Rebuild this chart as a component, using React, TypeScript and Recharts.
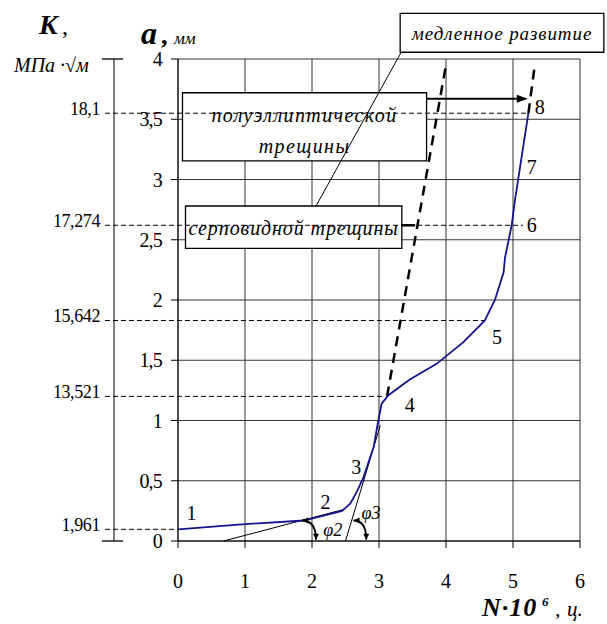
import React from 'react';
import {
  ComposedChart, Line, XAxis, YAxis, CartesianGrid, ReferenceLine,
  ReferenceArea, Scatter, Customized,
} from 'recharts';

// ---- data ----
const cycles = [0, 1.0, 1.88, 2.45, 2.57, 2.67, 2.77, 2.92, 2.99, 3.04, 3.14, 3.46, 3.86, 4.26, 4.58, 4.73, 4.86, 4.88, 4.94, 4.98, 5.03, 5.23];
const depth = [0.097, 0.14, 0.17, 0.25, 0.31, 0.41, 0.53, 0.78, 1.0, 1.14, 1.21, 1.34, 1.47, 1.65, 1.83, 2.0, 2.23, 2.35, 2.51, 2.62, 2.83, 3.55];

const xTicks = [0, 1, 2, 3, 4, 5, 6];
const aTicks = [0, 0.5, 1, 1.5, 2, 2.5, 3, 3.5, 4];

const kLevels = [0.097, 1.2, 1.83, 2.62, 3.55];
const kLabels = ['1,961', '13,521', '15,642', '17,274', '18,1'];
const kLineEnds = [0, 3.09, 4.58, 5.15, 5.22];
const kTicks = [0, ...kLevels, 4];

const stageN = [0.2, 2.2, 2.66, 3.46, 4.76, 5.28, 5.28, 5.4, 2.31, 2.88];
const stageA = [0.23, 0.32, 0.61, 1.13, 1.69, 2.62, 3.1, 3.6, 0.09, 0.23];
const stageText = ['1', '2', '3', '4', '5', '6', '7', '8', 'φ2', 'φ3'];

const curve = cycles.map((n, i) => ({ n, a: depth[i] }));
const stageLabels = stageN.map((n, i) => ({ n, a: stageA[i], t: stageText[i] }));

const SERIF = '"Liberation Serif", serif';
const K_AXIS_LEFT = -1.09;

const ArrowShape = (p: any) => {
  const { x1, y1, x2, y2 } = p;
  const ang = Math.atan2(y2 - y1, x2 - x1);
  const L = 11, W = 4;
  const bx = x2 - L * Math.cos(ang), by = y2 - L * Math.sin(ang);
  const px = -Math.sin(ang) * W, py = Math.cos(ang) * W;
  return (
    <g>
      <line x1={x1} y1={y1} x2={bx} y2={by} stroke="#000" strokeWidth={2.2} />
      <polygon points={`${x2},${y2} ${bx + px},${by + py} ${bx - px},${by - py}`} fill="#000" />
    </g>
  );
};

const head = (tx: number, ty: number, fx: number, fy: number, L = 6, W = 3) => {
  const ang = Math.atan2(ty - fy, tx - fx);
  const bx = tx - L * Math.cos(ang), by = ty - L * Math.sin(ang);
  const px = -Math.sin(ang) * W, py = Math.cos(ang) * W;
  return `${tx},${ty} ${bx + px},${by + py} ${bx - px},${by - py}`;
};

const ArcShape = (p: any) => {
  const { x1, y1, x2, y2 } = p;
  const cx = x2, cy = y1;
  return (
    <g>
      <path d={`M${x1},${y1} Q${cx},${cy} ${x2},${y2}`} fill="none" stroke="#000" strokeWidth={1.8} />
      <polygon points={head(x2, y2, cx, cy)} fill="#000" />
      <polygon points={head(x1, y1, cx, cy)} fill="#000" />
    </g>
  );
};

const boxText = (lines: string[], baselines: number[], size: number, spacing: number) => (props: any) => {
  const vb = props.viewBox || {};
  const cx = vb.x + vb.width / 2;
  return (
    <g>
      {lines.map((l, i) => (
        <text key={i} x={cx} y={vb.y + baselines[i]} textAnchor="middle" fontFamily={SERIF}
          fontStyle="italic" fontSize={size} letterSpacing={spacing} fill="#000">{l}</text>
      ))}
    </g>
  );
};

const KTick = (p: any) => {
  const { x, y, payload } = p;
  const v = payload && payload.value;
  if (v === 0 || v === 4) {
    return <line x1={x - 12} x2={x + 9} y1={y} y2={y} stroke="#000" strokeWidth={1.3} />;
  }
  const i = kLevels.indexOf(v);
  return (
    <text x={x - 14} y={y + 2} textAnchor="end" fontFamily={SERIF} fontSize={18}
      letterSpacing={-0.4} fill="#000">{i >= 0 ? kLabels[i] : ''}</text>
  );
};

const StageLabel = (p: any) => {
  const { cx, cy, payload } = p;
  const isPhi = payload.t.startsWith('φ');
  return (
    <text x={cx} y={cy} textAnchor="middle" dominantBaseline="central" fontFamily={SERIF}
      fontSize={isPhi ? 18 : 20} fontStyle={isPhi ? 'italic' : 'normal'} fill="#000">{payload.t}</text>
  );
};

const Titles = () => (
  <g fontFamily={SERIF} fill="#000">
    <text x={39} y={34} fontSize={28} fontWeight="bold" fontStyle="italic">K</text>
    <text x={62} y={34} fontSize={24}>,</text>
    <text x={14} y={72} fontSize={20} fontStyle="italic">МПа ·√м</text>
    <text x={141} y={44} fontSize={32} fontWeight="bold" fontStyle="italic">a</text>
    <text x={161} y={44} fontSize={26} fontWeight="bold">,</text>
    <text x={174} y={44} fontSize={17} fontStyle="italic">мм</text>
    <text x={482} y={616} fontSize={26} fontWeight="bold" fontStyle="italic" letterSpacing={1}>N·10</text>
    <text x={542} y={606} fontSize={13} fontWeight="bold" fontStyle="italic">6</text>
    <text x={555} y={616} fontSize={22}>,</text>
    <text x={567} y={616} fontSize={21} fontStyle="italic">ц.</text>
  </g>
);

export default function App() {
  return (
    <div className="kchart" style={{ position: 'absolute', left: 0, top: 0, background: '#fff', fontFamily: SERIF }}>
      <style>{`.kchart svg text { font-family: "Liberation Serif", serif !important; }`}</style>
      <ComposedChart width={607} height={624} data={curve}
        margin={{ top: 59, right: 27, left: 14, bottom: 23 }}>
        <CartesianGrid stroke="#333" strokeWidth={1} />
        <XAxis type="number" dataKey="n" domain={[0, 6]} ticks={xTicks} interval={0}
          height={60} tickSize={7} tickMargin={26} stroke="#000"
          tick={{ fontSize: 20, fill: '#000', fontFamily: SERIF }} />
        <YAxis type="number" domain={[0, 4]} ticks={aTicks} interval={0} width={64}
          tickSize={7} tickMargin={9} stroke="#000"
          tickFormatter={(v: number) => String(v).replace('.', ',')}
          tick={{ fontSize: 20, fill: '#000', fontFamily: SERIF, letterSpacing: -0.8 }} />
        <YAxis yAxisId="k" type="number" domain={[0, 4]} allowDataOverflow ticks={kTicks} interval={0}
          width={100} tickSize={0} tickMargin={0} tickLine={false} stroke="#000" tick={KTick} />

        {kLevels.map((lv, i) => (
          <ReferenceLine key={'k' + i} ifOverflow="visible" stroke="#000" strokeWidth={1}
            strokeDasharray="5 3"
            segment={[{ x: K_AXIS_LEFT, y: lv }, { x: kLineEnds[i], y: lv }]} />
        ))}

        <ReferenceLine ifOverflow="visible" stroke="#000" strokeWidth={1}
          segment={[{ x: 0.68, y: 0 }, { x: 2.46, y: 0.26 }]} />
        <ReferenceLine ifOverflow="visible" stroke="#000" strokeWidth={1}
          segment={[{ x: 2.5, y: 0 }, { x: 3.02, y: 0.96 }]} />

        <ReferenceLine ifOverflow="visible" stroke="#000" strokeWidth={2.5} strokeDasharray="10 7"
          segment={[{ x: 3.12, y: 1.2 }, { x: 4.0, y: 3.95 }]} />
        <ReferenceLine ifOverflow="visible" stroke="#000" strokeWidth={2.5} strokeDasharray="10 7"
          segment={[{ x: 5.23, y: 3.55 }, { x: 5.33, y: 3.97 }]} />

        <Line type="linear" dataKey="a" stroke="#14148c" strokeWidth={1.8} dot={false}
          activeDot={false} isAnimationActive={false} />

        <ReferenceLine ifOverflow="visible" stroke="#000" strokeWidth={1}
          segment={[{ x: 3.33, y: 4.055 }, { x: 2.06, y: 2.78 }]} />
        <ReferenceLine ifOverflow="visible" stroke="#000" strokeWidth={2.5}
          segment={[{ x: 3.34, y: 2.62 }, { x: 3.54, y: 2.62 }]} />
        <ReferenceLine ifOverflow="visible" shape={ArrowShape}
          segment={[{ x: 3.71, y: 3.67 }, { x: 5.22, y: 3.67 }]} />
        <ReferenceLine ifOverflow="visible" shape={ArcShape}
          segment={[{ x: 1.85, y: 0.17 }, { x: 2.06, y: 0.01 }]} />
        <ReferenceLine ifOverflow="visible" shape={ArcShape}
          segment={[{ x: 2.62, y: 0.17 }, { x: 2.81, y: 0.01 }]} />

        <ReferenceArea ifOverflow="visible" x1={0.067} x2={3.71} y1={3.154} y2={3.72}
          fill="#fff" fillOpacity={1} stroke="#000" strokeWidth={1.3}
          label={boxText(['полуэллиптической', 'трещины'], [29, 60], 20, 1.4)} />
        <ReferenceArea ifOverflow="visible" x1={3.316} x2={6.356} y1={4.056} y2={4.379}
          fill="#fff" fillOpacity={1} stroke="#000" strokeWidth={1.3}
          label={boxText(['медленное развитие'], [27], 19, 0.9)} />
        <ReferenceArea ifOverflow="visible" x1={0.112} x2={3.341} y1={2.429} y2={2.78}
          fill="#fff" fillOpacity={1} stroke="#000" strokeWidth={1.3}
          label={boxText(['серповидной трещины'], [29], 20, 0.9)} />

        <Scatter yAxisId="k" data={stageLabels} dataKey="a" shape={StageLabel} isAnimationActive={false} />
        <Customized component={Titles} />
      </ComposedChart>
    </div>
  );
}
